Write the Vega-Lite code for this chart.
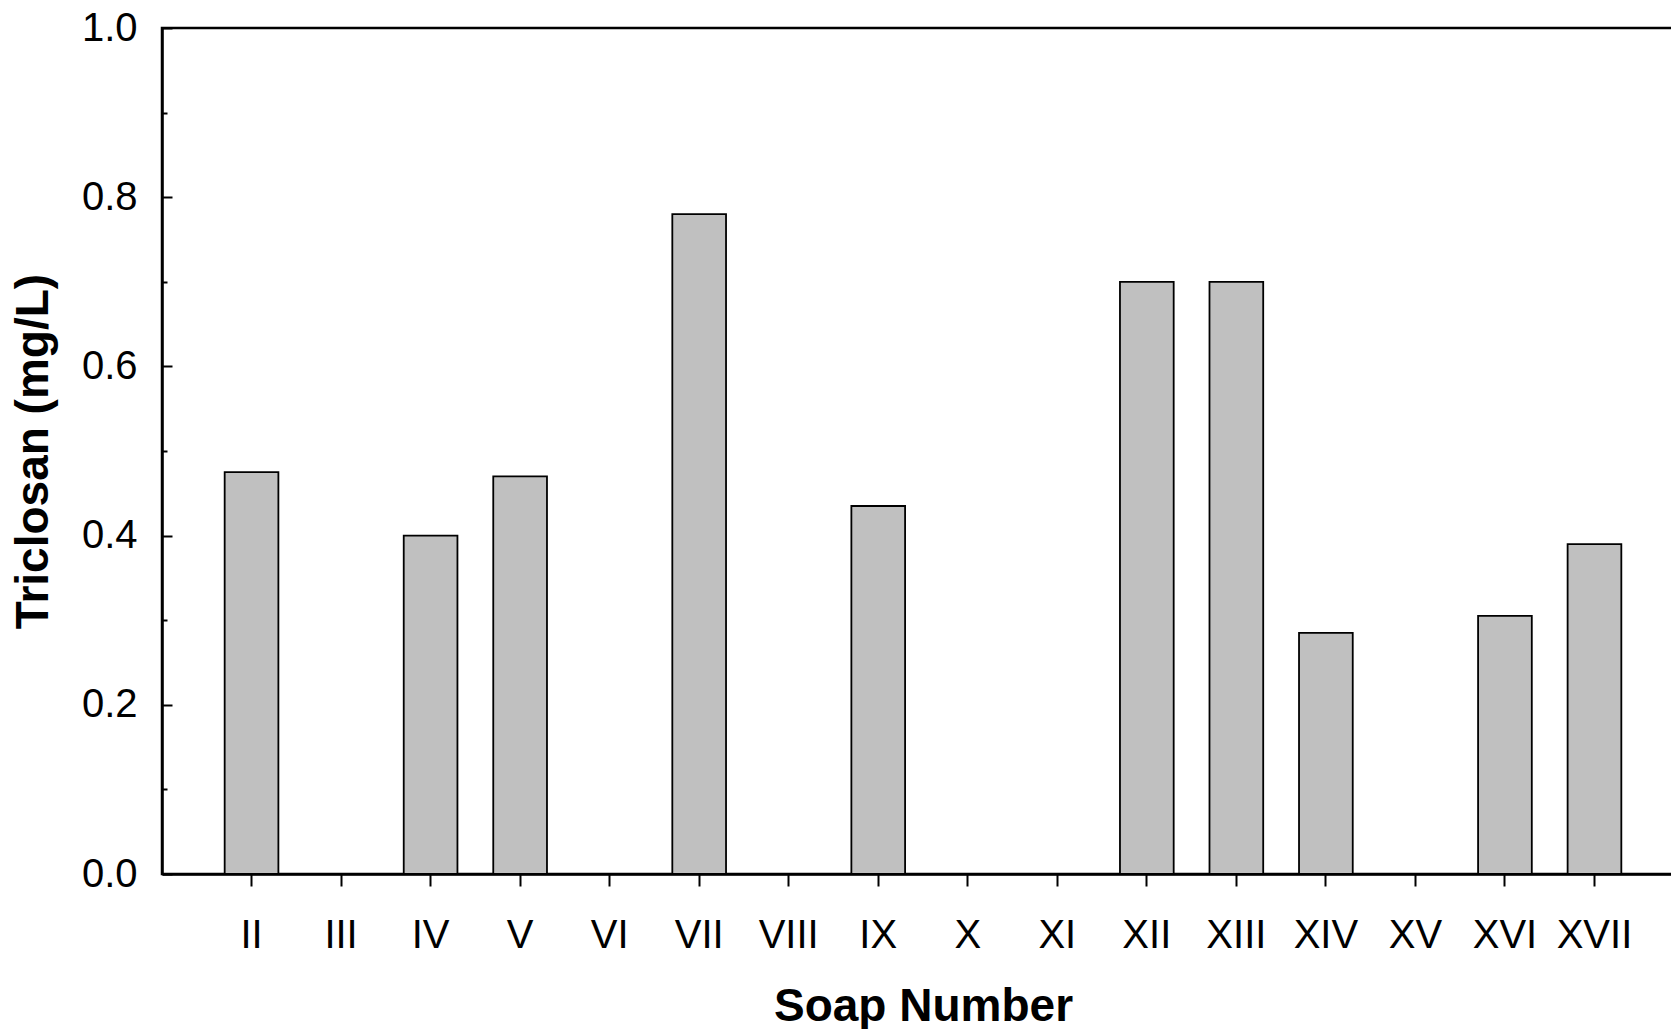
{
  "$schema": "https://vega.github.io/schema/vega-lite/v6.json",
  "width": 1522,
  "height": 846,
  "autosize": {"type": "none"},
  "padding": {"left": 162, "top": 28, "right": -13, "bottom": 155},
  "background": "white",
  "config": {
    "view": {"stroke": "black", "strokeWidth": 2.5},
    "font": "Liberation Sans"
  },
  "data": {
    "values": [
      {"soap": "II", "triclosan": 0.475},
      {"soap": "III", "triclosan": 0},
      {"soap": "IV", "triclosan": 0.40},
      {"soap": "V", "triclosan": 0.47},
      {"soap": "VI", "triclosan": 0},
      {"soap": "VII", "triclosan": 0.78},
      {"soap": "VIII", "triclosan": 0},
      {"soap": "IX", "triclosan": 0.435},
      {"soap": "X", "triclosan": 0},
      {"soap": "XI", "triclosan": 0},
      {"soap": "XII", "triclosan": 0.70},
      {"soap": "XIII", "triclosan": 0.70},
      {"soap": "XIV", "triclosan": 0.285},
      {"soap": "XV", "triclosan": 0},
      {"soap": "XVI", "triclosan": 0.305},
      {"soap": "XVII", "triclosan": 0.39}
    ]
  },
  "mark": {"type": "bar", "fill": "#c0c0c0", "stroke": "black", "strokeWidth": 1.8},
  "encoding": {
    "x": {
      "field": "soap",
      "type": "nominal",
      "sort": null,
      "scale": {
        "domain": ["II", "III", "IV", "V", "VI", "VII", "VIII", "IX", "X", "XI", "XII", "XIII", "XIV", "XV", "XVI", "XVII"],
        "paddingInner": 0.4,
        "paddingOuter": 0.7
      },
      "axis": {
        "title": "Soap Number",
        "titleFont": "Liberation Sans",
        "titleFontSize": 46,
        "titleFontWeight": "bold",
        "titleColor": "black",
        "titlePadding": 29,
        "labelFont": "Liberation Sans",
        "labelFontSize": 40,
        "labelColor": "black",
        "labelPadding": 29,
        "labelAngle": 0,
        "tickSize": 12,
        "tickWidth": 2,
        "tickColor": "black",
        "domainColor": "black",
        "domainWidth": 2.5,
        "grid": false
      }
    },
    "y": {
      "field": "triclosan",
      "type": "quantitative",
      "scale": {"domain": [0, 1], "nice": false, "zero": true},
      "axis": {
        "title": "Triclosan (mg/L)",
        "titleFont": "Liberation Sans",
        "titleFontSize": 46,
        "titleFontWeight": "bold",
        "titleColor": "black",
        "titlePadding": 24,
        "values": [0, 0.1, 0.2, 0.3, 0.4, 0.5, 0.6, 0.7, 0.8, 0.9, 1.0],
        "labelExpr": "round(datum.value * 10) % 2 == 0 ? format(datum.value, '.1f') : ''",
        "labelFont": "Liberation Sans",
        "labelFontSize": 40,
        "labelColor": "black",
        "labelPadding": 35,
        "labelFlush": false,
        "labelOverlap": false,
        "tickSize": {"condition": {"test": "round(datum.value * 10) % 2 == 0", "value": -10}, "value": -5},
        "tickWidth": 2,
        "tickColor": "black",
        "domainColor": "black",
        "domainWidth": 2.5,
        "grid": false
      }
    }
  }
}
